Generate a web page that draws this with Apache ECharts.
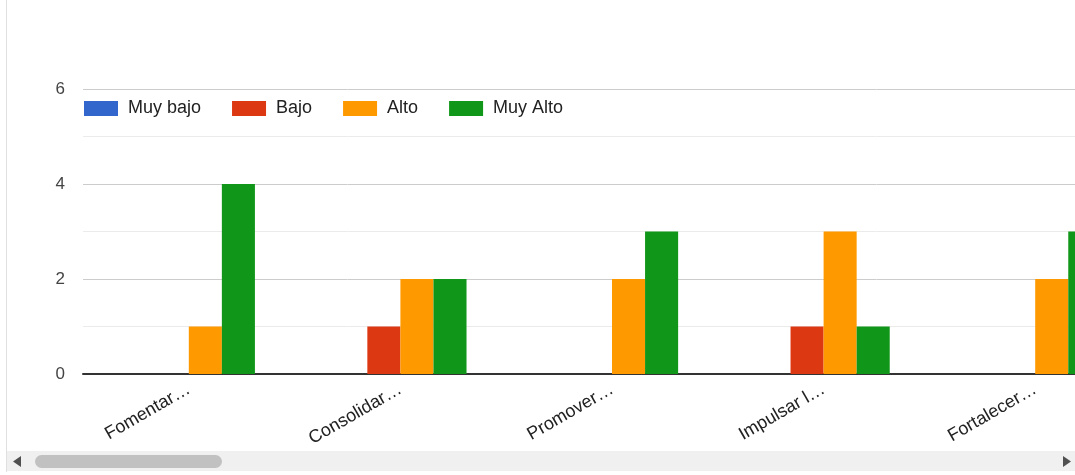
<!DOCTYPE html>
<html>
<head>
<meta charset="utf-8">
<script src="https://cdn.jsdelivr.net/npm/echarts@6/dist/echarts.min.js"></script>
<style>
  html, body { margin: 0; padding: 0; background: #fff; overflow: hidden; }
  /* the chart is wider than the view; its right end is scrolled out of sight */
  #chart { width: 1141px; height: 475px; }
</style>
</head>
<body>
<div id="chart"></div>
<script>
// Categories (truncated labels) and values per rating level
const categories = ['Fomentar…', 'Consolidar…', 'Promover…', 'Impulsar l…', 'Fortalecer…'];
const seriesNames = ['Muy bajo', 'Bajo', 'Alto', 'Muy Alto'];
const muyBajo = [0, 0, 0, 0, 0];
const bajo = [0, 1, 0, 1, 0];
const alto = [1, 2, 2, 3, 2];
const muyAlto = [4, 2, 3, 1, 3];
const yTicks = [0, 2, 4, 6];

const colors = ['#3366cc', '#dc3912', '#ff9900', '#109618'];
const values = [muyBajo, bajo, alto, muyAlto];

const chart = echarts.init(document.getElementById('chart'), null, { renderer: 'canvas' });

const font = 'Arial, "Liberation Sans", sans-serif';

chart.setOption({
  animation: false,
  color: colors,
  textStyle: { fontFamily: font },
  legend: {
    left: 84,
    top: 99.5,
    padding: 0,
    itemWidth: 34,
    itemHeight: 15,
    itemGap: 31,
    icon: 'rect',
    textStyle: { fontSize: 18, lineHeight: 18, color: '#222', fontFamily: font, padding: [0, 0, 0, 5] },
    data: seriesNames
  },
  grid: { left: 83, top: 89, right: 0, height: 285, containLabel: false },
  xAxis: {
    type: 'category',
    data: categories,
    axisLine: { show: true, lineStyle: { color: '#333', width: 2 } },
    axisTick: { show: false },
    axisLabel: {
      rotate: 30,
      margin: 14,
      fontSize: 18,
      color: '#222',
      fontFamily: font,
      interval: 0
    }
  },
  yAxis: {
    type: 'value',
    min: yTicks[0],
    max: yTicks[yTicks.length - 1],
    interval: 2,
    axisLine: { show: false },
    axisTick: { show: false },
    axisLabel: { margin: 18, fontSize: 17, color: '#444', fontFamily: font },
    splitLine: { lineStyle: { color: '#cccccc', width: 1 } },
    minorTick: { show: false, splitNumber: 2 },
    minorSplitLine: { show: true, lineStyle: { color: '#ebebeb', width: 1 } }
  },
  series: seriesNames.map((name, i) => ({
    name,
    type: 'bar',
    data: values[i],
    barGap: '0%',
    barCategoryGap: '37.5%',
    itemStyle: { color: colors[i] }
  })),
  graphic: [
    // container left border
    { type: 'line', shape: { x1: 6.5, y1: 0, x2: 6.5, y2: 472 }, style: { stroke: '#e0e0e0', lineWidth: 1 }, z: 10 },
    // horizontal scrollbar track
    { type: 'rect', shape: { x: 7, y: 451, width: 1068, height: 20 }, style: { fill: '#f0f0f0' }, z: 10 },
    // scrollbar thumb
    { type: 'rect', shape: { x: 35, y: 455, width: 187, height: 13, r: 6.5 }, style: { fill: '#c1c1c1' }, z: 11 },
    // left arrow
    { type: 'polygon', shape: { points: [[13, 461.5], [21, 456], [21, 467]] }, style: { fill: '#505050' }, z: 11 },
    // right arrow
    { type: 'polygon', shape: { points: [[1071, 461.5], [1063, 456], [1063, 467]] }, style: { fill: '#505050' }, z: 11 }
  ]
});
</script>
</body>
</html>
